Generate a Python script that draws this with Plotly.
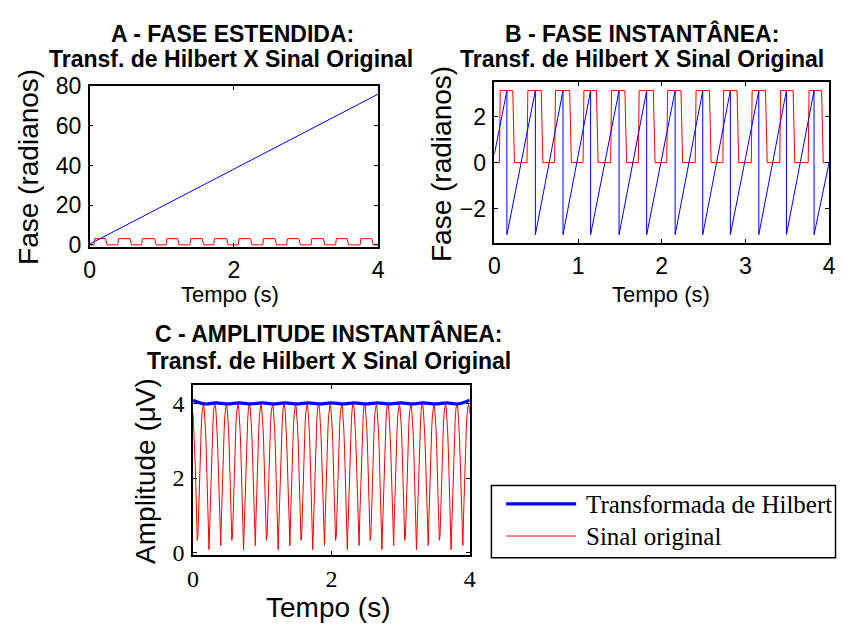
import numpy as np
import plotly.graph_objects as go

# ---------------- data ----------------
# A - unwrapped phase of the Hilbert transform (rad)
tempo_estendida = [0, 1, 2, 3, 4]
fase_estendida = [0.4, 19.3, 38.2, 57.1, 76.0]

# phase of the original signal: square wave between 0 and pi (switch instants, s)
fase_alta = 3.14
subidas = [0.06, 0.39, 0.72, 1.06, 1.39, 1.72, 2.06, 2.40, 2.73, 3.07, 3.41, 3.75]
descidas = [0.22, 0.56, 0.90, 1.22, 1.56, 1.90, 2.23, 2.57, 2.90, 3.24, 3.57, 3.91]

# B - wrapped (instantaneous) phase of the Hilbert transform
saltos = [0.15, 0.49, 0.82, 1.15, 1.49, 1.82, 2.16, 2.49, 2.82, 3.16, 3.49, 3.82]
fase_inst_inicio = 0.36
fase_inst_fim = 0.0
fase_max, fase_min = 3.14, -3.14

# C - amplitude of the original signal (100 samples/s, 0..4 s)
amplitude_original = [
    3.74, 3.41, 2.96, 2.41, 1.77, 1.06, 0.32, 0.43, 1.17, 1.87, 2.50, 3.04, 3.47, 3.78, 3.96, 4.00, 3.89, 3.65, 3.28, 2.79, 2.20, 1.54, 0.82, 0.07, 0.68, 1.41, 2.08, 2.69, 3.19, 3.59, 3.86, 3.99, 3.98, 3.83, 3.54, 3.13, 2.60, 1.99, 1.30, 0.57, 0.18, 0.93, 1.64, 2.29, 2.87, 3.34, 3.69, 3.92, 4.00, 3.94,
    3.74, 3.41, 2.96, 2.41, 1.77, 1.06, 0.32, 0.43, 1.17, 1.87, 2.50, 3.04, 3.47, 3.78, 3.96, 4.00, 3.89, 3.65, 3.28, 2.79, 2.20, 1.54, 0.82, 0.07, 0.68, 1.41, 2.08, 2.69, 3.19, 3.59, 3.86, 3.99, 3.98, 3.83, 3.54, 3.13, 2.60, 1.99, 1.30, 0.57, 0.18, 0.93, 1.64, 2.29, 2.87, 3.34, 3.69, 3.92, 4.00, 3.94,
    3.74, 3.41, 2.96, 2.41, 1.77, 1.06, 0.32, 0.43, 1.17, 1.87, 2.50, 3.04, 3.47, 3.78, 3.96, 4.00, 3.89, 3.65, 3.28, 2.79, 2.20, 1.54, 0.82, 0.07, 0.68, 1.41, 2.08, 2.69, 3.19, 3.59, 3.86, 3.99, 3.98, 3.83, 3.54, 3.13, 2.60, 1.99, 1.30, 0.57, 0.18, 0.93, 1.64, 2.29, 2.87, 3.34, 3.69, 3.92, 4.00, 3.94,
    3.74, 3.41, 2.96, 2.41, 1.77, 1.06, 0.32, 0.43, 1.17, 1.87, 2.50, 3.04, 3.47, 3.78, 3.96, 4.00, 3.89, 3.65, 3.28, 2.79, 2.20, 1.54, 0.82, 0.07, 0.68, 1.41, 2.08, 2.69, 3.19, 3.59, 3.86, 3.99, 3.98, 3.83, 3.54, 3.13, 2.60, 1.99, 1.30, 0.57, 0.18, 0.93, 1.64, 2.29, 2.87, 3.34, 3.69, 3.92, 4.00, 3.94,
    3.74, 3.41, 2.96, 2.41, 1.77, 1.06, 0.32, 0.43, 1.17, 1.87, 2.50, 3.04, 3.47, 3.78, 3.96, 4.00, 3.89, 3.65, 3.28, 2.79, 2.20, 1.54, 0.82, 0.07, 0.68, 1.41, 2.08, 2.69, 3.19, 3.59, 3.86, 3.99, 3.98, 3.83, 3.54, 3.13, 2.60, 1.99, 1.30, 0.57, 0.18, 0.93, 1.64, 2.29, 2.87, 3.34, 3.69, 3.92, 4.00, 3.94,
    3.74, 3.41, 2.96, 2.41, 1.77, 1.06, 0.32, 0.43, 1.17, 1.87, 2.50, 3.04, 3.47, 3.78, 3.96, 4.00, 3.89, 3.65, 3.28, 2.79, 2.20, 1.54, 0.82, 0.07, 0.68, 1.41, 2.08, 2.69, 3.19, 3.59, 3.86, 3.99, 3.98, 3.83, 3.54, 3.13, 2.60, 1.99, 1.30, 0.57, 0.18, 0.93, 1.64, 2.29, 2.87, 3.34, 3.69, 3.92, 4.00, 3.94,
    3.74, 3.41, 2.96, 2.41, 1.77, 1.06, 0.32, 0.43, 1.17, 1.87, 2.50, 3.04, 3.47, 3.78, 3.96, 4.00, 3.89, 3.65, 3.28, 2.79, 2.20, 1.54, 0.82, 0.07, 0.68, 1.41, 2.08, 2.69, 3.19, 3.59, 3.86, 3.99, 3.98, 3.83, 3.54, 3.13, 2.60, 1.99, 1.30, 0.57, 0.18, 0.93, 1.64, 2.29, 2.87, 3.34, 3.69, 3.92, 4.00, 3.94,
    3.74, 3.41, 2.96, 2.41, 1.77, 1.06, 0.32, 0.43, 1.17, 1.87, 2.50, 3.04, 3.47, 3.78, 3.96, 4.00, 3.89, 3.65, 3.28, 2.79, 2.20, 1.54, 0.82, 0.07, 0.68, 1.41, 2.08, 2.69, 3.19, 3.59, 3.86, 3.99, 3.98, 3.83, 3.54, 3.13, 2.60, 1.99, 1.30, 0.57, 0.18, 0.93, 1.64, 2.29, 2.87, 3.34, 3.69, 3.92, 4.00, 3.94,
    3.74,
]
taxa_amostragem = 100  # samples per second

# C - Hilbert envelope (every 1/6 s)
envelope = [4.10, 4.00, 4.03, 4.00, 4.03, 4.00, 4.03, 4.00, 4.03, 4.00, 4.03, 4.00, 4.03,
            4.00, 4.03, 4.00, 4.03, 4.00, 4.03, 4.00, 4.03, 4.00, 4.03, 4.00, 4.10]

legenda = ["Transformada de Hilbert", "Sinal original"]

# ---------------- derived series ----------------
# square-wave vertices of the original phase
fo_t, fo_y = [0.0], [0.0]
for r, f in zip(subidas, descidas):
    fo_t += [r, r + 0.01, f, f + 0.02]
    fo_y += [0.0, fase_alta, fase_alta, 0.0]
fo_t.append(4.0)
fo_y.append(0.0)

# sawtooth vertices of the wrapped phase
fi_t, fi_y = [0.0], [fase_inst_inicio]
for s in saltos:
    fi_t += [s, s]
    fi_y += [fase_max, fase_min]
fi_t.append(4.0)
fi_y.append(fase_inst_fim)

t_amp = np.arange(len(amplitude_original)) / taxa_amostragem
t_env = np.linspace(0, 4, len(envelope))

# ---------------- figure ----------------
W, H = 844, 637
BLUE, RED = "#0000ff", "#ff0000"
SANS = "Liberation Sans, Arial, sans-serif"
SERIF = "Liberation Serif, Times New Roman, serif"


def px(x):
    return x / W


def py(y):
    return 1 - y / H


fig = go.Figure()

# A
fig.add_trace(go.Scatter(x=fo_t, y=fo_y, mode="lines", line=dict(color=RED, width=1),
                         xaxis="x", yaxis="y", showlegend=False))
fig.add_trace(go.Scatter(x=tempo_estendida, y=fase_estendida, mode="lines",
                         line=dict(color=BLUE, width=1), xaxis="x", yaxis="y", showlegend=False))
# B
fig.add_trace(go.Scatter(x=fo_t, y=fo_y, mode="lines", line=dict(color=RED, width=1),
                         xaxis="x2", yaxis="y2", showlegend=False))
fig.add_trace(go.Scatter(x=fi_t, y=fi_y, mode="lines", line=dict(color=BLUE, width=1),
                         xaxis="x2", yaxis="y2", showlegend=False))
# C
fig.add_trace(go.Scatter(x=t_amp, y=amplitude_original, mode="lines", name=legenda[1],
                         line=dict(color=RED, width=1), xaxis="x3", yaxis="y3", showlegend=False))
fig.add_trace(go.Scatter(x=t_env, y=envelope, mode="lines", name=legenda[0],
                         line=dict(color=BLUE, width=3.2, shape="spline"), xaxis="x3", yaxis="y3",
                         showlegend=False))


def axis_style(domain, rng, tickvals, font, anchor, size=23):
    return dict(domain=domain, range=rng, tickvals=tickvals, showgrid=False, zeroline=False,
                showline=True, linecolor="black", linewidth=1.5, mirror="allticks",
                ticks="inside", ticklen=4, tickwidth=1, tickcolor="black",
                tickfont=dict(family=font, size=size, color="black"), anchor=anchor)


layout = dict(
    width=W, height=H, margin=dict(l=0, r=0, t=0, b=0),
    paper_bgcolor="white", plot_bgcolor="white", showlegend=False,
    xaxis=axis_style([px(85), px(378)], [0, 4], [0, 2, 4], SANS, "y"),
    yaxis=axis_style([py(243), py(76)], [-1, 80], [0, 20, 40, 60, 80], SANS, "x"),
    xaxis2=axis_style([px(496), px(836)], [0, 4], [0, 1, 2, 3, 4], SANS, "y2"),
    yaxis2=axis_style([py(239), py(72)], [-3.5, 3.5], [-2, 0, 2], SANS, "x2"),
    xaxis3=axis_style([px(190), px(471)], [0, 4], [0, 2, 4], SERIF, "y3", 24),
    yaxis3=axis_style([py(563), py(387)], [-0.07, 4.5], [0, 2, 4], SERIF, "x3", 24),
)
fig.update_layout(**layout)
fig.update_yaxes(ticklabelstandoff=2)
fig.update_xaxes(ticklabelstandoff=2)


def ann(text, x, y, size, family=SANS, angle=0, xanchor="center"):
    fig.add_annotation(text=text, x=px(x), y=py(y), xref="paper", yref="paper",
                       xanchor=xanchor, yanchor="middle", showarrow=False, textangle=angle,
                       font=dict(family=family, size=size, color="black"))


# titles
ann("<b>A - FASE ESTENDIDA:</b>", 230, 21.7, 23)
ann("<b>Transf. de Hilbert X Sinal Original</b>", 229, 48.3, 23)
ann("<b>B - FASE INSTANTÂNEA:</b>", 646, 21.2, 23)
ann("<b>Transf. de Hilbert X Sinal Original</b>", 646, 47.5, 23)
ann("<b>C - AMPLITUDE INSTANTÂNEA:</b>", 328, 333, 23)
ann("<b>Transf. de Hilbert X Sinal Original</b>", 328, 361.7, 23)

# axis titles
ann("Fase (radianos)", 23.3, 160, 28, angle=-90)
ann("Tempo (s)", 228, 292.5, 22)
ann("Fase (radianos)", 441.7, 157, 28, angle=-90)
ann("Tempo (s)", 665, 292.5, 22)
ann("Amplitude (μV)", 141, 476, 28, angle=-90)
ann("Tempo (s)", 327, 618, 28)

# legend box
fig.add_shape(type="rect", xref="paper", yref="paper", x0=px(493), x1=px(842.5),
              y0=py(566), y1=py(491), line=dict(color="black", width=1.5), fillcolor="white")
fig.add_shape(type="line", xref="paper", yref="paper", x0=px(508), x1=px(579),
              y0=py(510), y1=py(510), line=dict(color=BLUE, width=3.2))
fig.add_shape(type="line", xref="paper", yref="paper", x0=px(508), x1=px(579),
              y0=py(543.5), y1=py(543.5), line=dict(color=RED, width=1))
ann(legenda[0], 587, 511, 25, family=SERIF, xanchor="left")
ann(legenda[1], 587, 544.5, 25, family=SERIF, xanchor="left")

fig.write_html("out.html", config={"displayModeBar": False},
               post_script="document.body.style.margin='0';")
